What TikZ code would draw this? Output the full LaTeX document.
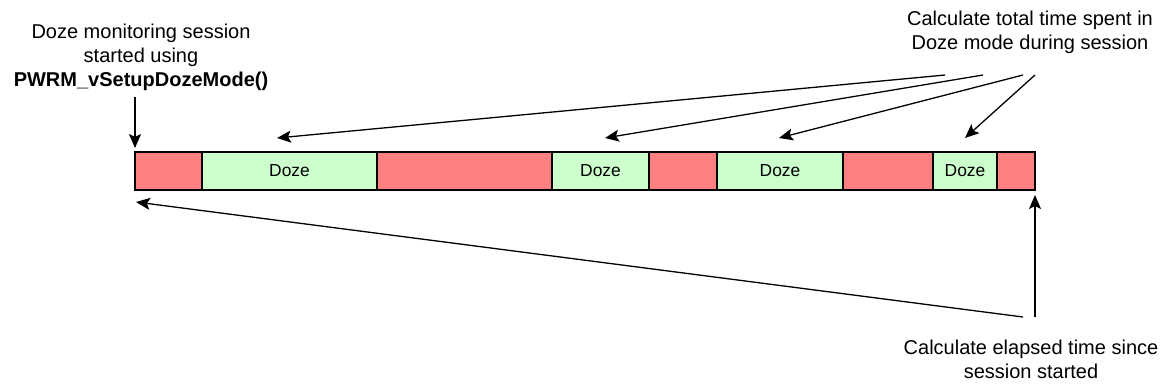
\documentclass[tikz,border=0pt]{standalone}
\usepackage{fontspec}
\setmainfont{Liberation Sans}
\usetikzlibrary{arrows.meta}
\definecolor{offred}{HTML}{FF8080}
\definecolor{dozegreen}{HTML}{CCFFCC}
\tikzset{
  seg/.style={draw=black, line width=1.3pt, minimum height=38pt, inner sep=0pt, outer sep=0pt, anchor=west, font=\fontsize{17.4}{20}\selectfont},
  awake/.style={seg, fill=offred},
  doze/.style={seg, fill=dozegreen},
  lbl/.style={align=center, inner sep=0pt, anchor=north, font=\fontsize{20}{24}\selectfont},
  arr/.style={line width=1.3pt, -{Stealth[length=14pt, width=12pt, inset=3pt]}}
}
\begin{document}
\begin{tikzpicture}[x=1pt, y=-1pt]
\path[use as bounding box] (0,0) rectangle (1167,389);
% bar
\node[awake, minimum width=67pt] (s1) at (135,171) {};
\node[doze, minimum width=175pt] (s2) at (s1.east) {Doze};
\node[awake, minimum width=175pt] (s3) at (s2.east) {};
\node[doze, minimum width=97pt] (s4) at (s3.east) {Doze};
\node[awake, minimum width=68pt] (s5) at (s4.east) {};
\node[doze, minimum width=126pt] (s6) at (s5.east) {Doze};
\node[awake, minimum width=90pt] (s7) at (s6.east) {};
\node[doze, minimum width=64pt] (s8) at (s7.east) {Doze};
\node[awake, minimum width=38pt] (s9) at (s8.east) {};
% labels
\node[lbl] (start) at (141,24) {Doze monitoring session\\started using\\\textbf{PWRM\_vSetupDozeMode()}};
\node[lbl] (total) at (1030,11) {Calculate total time spent in\\Doze mode during session};
\node[lbl] (elapsed) at (1031,340) {Calculate elapsed time since\\session started};
% arrow ends
\coordinate (a0) at (135,97);
\coordinate (t0) at (135,148);
\coordinate (a1) at (945,75);
\coordinate (t1) at (277,138);
\coordinate (a2) at (983,75);
\coordinate (t2) at (605,138);
\coordinate (a3) at (1023,75);
\coordinate (t3) at (779,138);
\coordinate (a4) at (1035,75);
\coordinate (t4) at (965,138);
\coordinate (b1) at (1023,317);
\coordinate (u1) at (136,202);
\coordinate (b2) at (1035,317);
\coordinate (u2) at (1035,195);
\draw[arr] (a0) -- (t0);
\draw[arr] (a1) -- (t1);
\draw[arr] (a2) -- (t2);
\draw[arr] (a3) -- (t3);
\draw[arr] (a4) -- (t4);
\draw[arr] (b1) -- (u1);
\draw[arr] (b2) -- (u2);
\end{tikzpicture}
\end{document}
